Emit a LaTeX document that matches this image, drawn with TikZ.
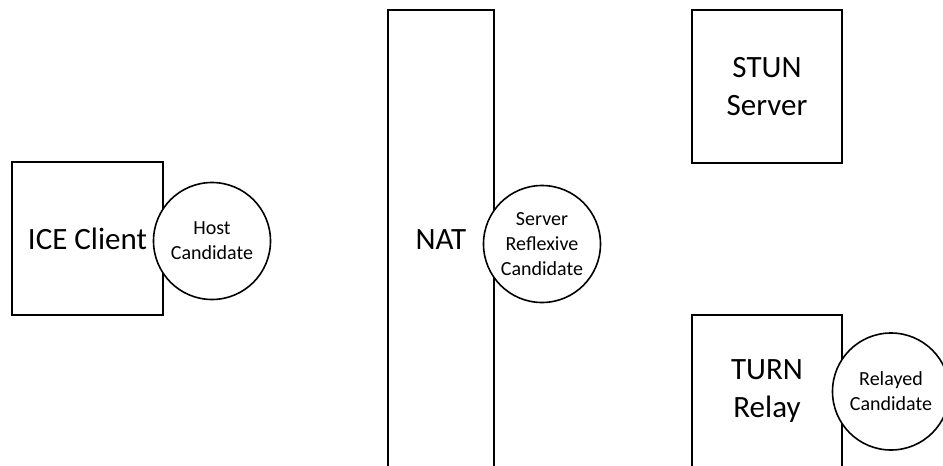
\documentclass[tikz,border=0pt]{standalone}
\usepackage{fontspec}
\setmainfont{Carlito}
\begin{document}
\begin{tikzpicture}[x=1pt,y=-1pt,
  every node/.style={inner sep=0pt, outer sep=0pt},
  unit/.style={draw=black, line width=1.6pt, fill=white, align=center,
    font=\fontsize{31}{38}\selectfont},
  cand/.style={circle, draw=black, line width=1.6pt, fill=white, align=center,
    minimum size=117pt, font=\fontsize{20}{25}\selectfont}]
  \useasboundingbox (0,0) rectangle (943,466);
  % network elements
  \node[unit, minimum width=151pt, minimum height=153pt] (ice) at (87.5,238.5) {ICE Client};
  \node[unit, minimum width=106pt, minimum height=460pt] (nat) at (441,240) {NAT};
  \node[unit, minimum width=150pt, minimum height=153pt] (stun) at (767,86.5) {STUN\\Server};
  \node[unit, minimum width=150pt, minimum height=152pt] (turn) at (767,391) {TURN\\Relay};
  % candidate addresses
  \node[cand] (host) at (212,241) {Host\\Candidate};
  \node[cand] (srflx) at (542,244) {Server\\Reflexive\\Candidate};
  \node[cand] (relay) at (891,391.5) {Relayed\\Candidate};
\end{tikzpicture}
\end{document}
